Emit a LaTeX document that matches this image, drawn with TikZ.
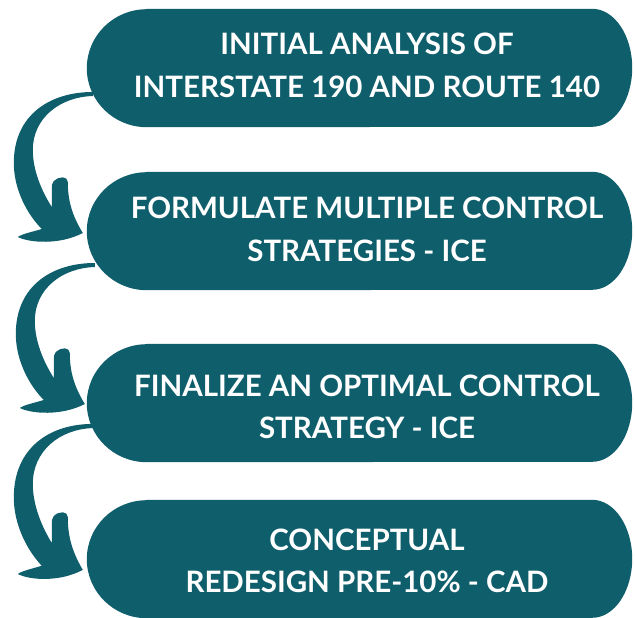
\documentclass[tikz,border=0pt]{standalone}
\usepackage{fontspec}
\setmainfont{Lato}
\usetikzlibrary{backgrounds,calc}
\definecolor{stepteal}{HTML}{0F5E6B}

\tikzset{
  x=1pt, y=1pt,
  pillbox/.style={minimum width=545pt, minimum height=118pt, inner sep=0pt, draw=none},
  pilltext/.style={text=white, align=center, inner sep=0pt,
    font=\bfseries\fontsize{29.5}{42.5}\selectfont},
  pics/bendarrow/.style={code={
    \fill[stepteal]
      (0,2) .. controls (-43,2) and (-79,-21) .. (-79,-69)
      .. controls (-79,-96) and (-65,-121) .. (-51,-135)
      .. controls (-61,-138) and (-71,-140) .. (-75,-143)
      .. controls (-63,-149) and (-33,-151) .. (-10,-139)
      .. controls (-21,-121) and (-25,-106) .. (-25,-88)
      .. controls (-25,-82) and (-34,-82) .. (-39,-87)
      .. controls (-41,-89) and (-41,-92) .. (-41,-95)
      -- (-41,-113)
      .. controls (-55,-91) and (-60,-71) .. (-60,-56)
      .. controls (-60,-24) and (-33,-3) .. (0,-2)
      -- cycle;
  }}
}

\begin{document}
\begin{tikzpicture}
  \useasboundingbox (0,0) rectangle (635,-618);
  \clip (0,0) rectangle (635,-618);

  % step boxes (placeholders sized like the pills)
  \node[pillbox] (b1) at (359.5,-68)  {};
  \node[pillbox] (b2) at (359.5,-231) {};
  \node[pillbox] (b3) at (359.5,-403) {};
  \node[pillbox] (b4) at (359.5,-559) {};

  % pill shapes: round left end, flatter right end
  \begin{scope}[on background layer]
    \foreach \b in {b1,b2,b3,b4}{
      \fill[stepteal]
        ($(\b.north west)+(60,0)$) -- ($(\b.north east)+(-40,0)$)
        arc[start angle=90, end angle=-90, x radius=40, y radius=59]
        -- ($(\b.south west)+(60,0)$)
        arc[start angle=270, end angle=90, x radius=60, y radius=59]
        -- cycle;
    }
  \end{scope}

  % labels
  \node[pilltext] (t1) at ($(b1.center)+(7.5,2.5)$)  {INITIAL ANALYSIS OF\\INTERSTATE 190 AND ROUTE 140};
  \node[pilltext] (t2) at ($(b2.center)+(7.5,1.5)$)  {FORMULATE MULTIPLE CONTROL\\STRATEGIES - ICE};
  \node[pilltext] (t3) at ($(b3.center)+(7.5,-4)$)   {FINALIZE AN OPTIMAL CONTROL\\STRATEGY - ICE};
  \node[pilltext] (t4) at ($(b4.center)+(7.5,-2)$)   {CONCEPTUAL\\REDESIGN PRE-10\% - CAD};

  % curved arrows from each box to the next
  \coordinate (a1) at ($(b1.west)+(6,-26)$);
  \coordinate (a2) at ($(b2.west)+(8,-34)$);
  \coordinate (a3) at ($(b3.west)+(6,-23)$);
  \pic at (a1) {bendarrow};
  \pic at (a2) {bendarrow};
  \pic[yscale=1.035] at (a3) {bendarrow};
\end{tikzpicture}
\end{document}
